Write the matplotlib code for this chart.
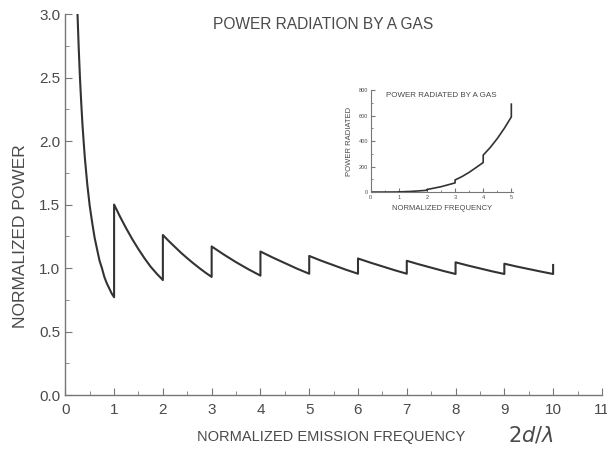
import numpy as np
import matplotlib
matplotlib.use("Agg")
import matplotlib.pyplot as plt
from matplotlib.ticker import MultipleLocator

# ---- data ----
# first branch (below the first mode cutoff)
x_first = [0.25, 0.275, 0.3, 0.325, 0.35, 0.375, 0.4, 0.45, 0.5, 0.55, 0.6, 0.65, 0.7,
           0.75, 0.8, 0.85, 0.9, 0.95, 1.0]
y_first = [3.0, 2.73, 2.5, 2.31, 2.14, 2.0, 1.87, 1.66, 1.49, 1.36, 1.24, 1.15, 1.06,
           1.0, 0.93, 0.88, 0.84, 0.80, 0.77]

# sawtooth segments: start at integer n, values at evenly spaced points from n to n+1
seg_start = [1, 2, 3, 4, 5, 6, 7, 8, 9]
seg_values = [
    [1.50, 1.402, 1.311, 1.226, 1.148, 1.076, 1.010, 0.955, 0.905],
    [1.26, 1.211, 1.165, 1.119, 1.077, 1.037, 0.999, 0.963, 0.930],
    [1.17, 1.106, 1.046, 0.991, 0.940],
    [1.13, 1.083, 1.039, 0.995, 0.955],
    [1.095, 1.057, 1.022, 0.987, 0.955],
    [1.075, 1.043, 1.013, 0.983, 0.955],
    [1.057, 1.029, 1.003, 0.977, 0.953],
    [1.045, 1.020, 0.997, 0.974, 0.953],
    [1.034, 1.012, 0.992, 0.972, 0.953],
]
x_last = [10.0]
y_last = [1.024]

# inset: power radiated vs normalized frequency
inset_x = [0, 0.5, 1, 1, 1.5, 2, 2, 2.5, 3, 3, 3.25, 3.5, 3.75, 4, 4, 4.25, 4.5, 4.75, 5, 5]
inset_y = [0, 0.1, 0.75, 1.5, 5.8, 14, 20, 42, 72, 95, 122, 155, 193, 232, 290, 350, 420, 500, 590, 690]

main_xticks = list(range(0, 12))
main_yticks = [0.0, 0.5, 1.0, 1.5, 2.0, 2.5, 3.0]

# ---- build main curve ----
xs = list(x_first)
ys = list(y_first)
for n, vals in zip(seg_start, seg_values):
    offs = np.linspace(0, 1, len(vals))
    for o, v in zip(offs, vals):
        xs.append(n + o)
        ys.append(v)
xs += x_last
ys += y_last

plt.rcParams['font.family'] = ['Liberation Sans', 'DejaVu Sans']
txt = '#4a4a4a'
line_c = '#333333'

fig = plt.figure(figsize=(6.07, 4.53), dpi=100)
ax = fig.add_axes([0.1076, 0.128, 0.884, 0.841])
ax.plot(xs, ys, color=line_c, lw=1.5)
ax.set_xlim(0, 11)
ax.set_ylim(0, 3)
ax.set_xticks(main_xticks)
ax.set_yticks(main_yticks)
ax.set_yticklabels([f"{v:.1f}" for v in main_yticks])
ax.xaxis.set_minor_locator(MultipleLocator(0.5))
ax.yaxis.set_minor_locator(MultipleLocator(0.25))
for s in ['top', 'right']:
    ax.spines[s].set_visible(False)
for s in ['left', 'bottom']:
    ax.spines[s].set_color('#777777')
    ax.spines[s].set_linewidth(1.0)
ax.tick_params(which='both', direction='in', colors='#777777', labelcolor=txt, labelsize=11)
ax.tick_params(which='major', length=5)
ax.tick_params(which='minor', length=3)
ax.tick_params(axis='x', pad=6)
ax.set_ylabel('NORMALIZED POWER', fontsize=12.5, color=txt)
ax.yaxis.set_label_coords(-0.069, 0.416)
fig.text(0.545, 0.035, 'NORMALIZED EMISSION FREQUENCY', fontsize=10.5, color=txt,
         ha='center', va='center')
fig.text(0.875, 0.040, r'$2d/\lambda$', fontsize=15, color=txt, ha='center', va='center')
fig.text(0.532, 0.945, 'POWER RADIATION BY A GAS', fontsize=11.2, color=txt, ha='center', va='center')

# ---- inset ----
ins = fig.add_axes([0.6107, 0.576, 0.234, 0.225])
ins.plot(inset_x, inset_y, color=line_c, lw=1.2)
ins.set_xlim(0, 5.05)
ins.set_ylim(0, 800)
ins.set_xticks([0, 1, 2, 3, 4, 5])
ins.set_yticks([0, 200, 400, 600, 800])
ins.xaxis.set_minor_locator(MultipleLocator(0.5))
ins.yaxis.set_minor_locator(MultipleLocator(100))
for s in ['top', 'right']:
    ins.spines[s].set_visible(False)
for s in ['left', 'bottom']:
    ins.spines[s].set_color('#777777')
    ins.spines[s].set_linewidth(0.8)
ins.tick_params(which='both', direction='in', colors='#777777', labelcolor=txt, labelsize=4, pad=2)
ins.tick_params(which='major', length=3)
ins.tick_params(which='minor', length=1.5)
ins.set_ylabel('POWER RADIATED', fontsize=5.5, color=txt, labelpad=4)
ins.set_xlabel('NORMALIZED FREQUENCY', fontsize=5.5, color=txt, labelpad=4)
ins.text(0.5, 0.95, 'POWER RADIATED BY A GAS', transform=ins.transAxes, fontsize=5.8,
         color=txt, ha='center', va='center')

fig.savefig('out.png', dpi=100)
